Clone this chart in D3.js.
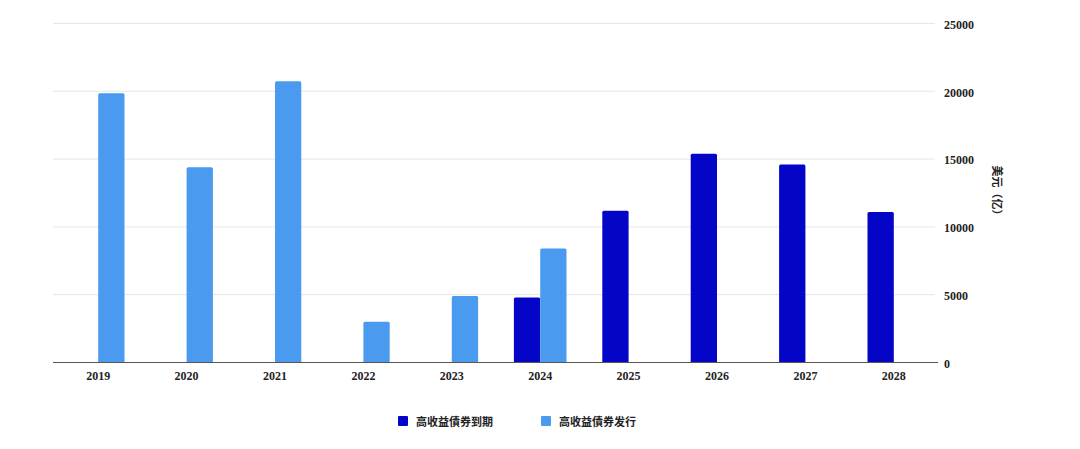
<!DOCTYPE html>
<html>
<head>
<meta charset="utf-8">
<script src="https://cdn.jsdelivr.net/npm/d3@7"></script>
<style>
  html, body { margin: 0; padding: 0; background: #fff; }
  text { font-family: "Liberation Serif", "DejaVu Serif", "Noto Sans CJK SC", serif; font-weight: bold; fill: #222; }
</style>
</head>
<body>
<svg id="main-svg" width="1080" height="449"></svg>
<script>
// chart data
const years = ['2019', '2020', '2021', '2022', '2023', '2024', '2025', '2026', '2027', '2028'];
const seriesNames = ['高收益債券到期', '高收益債券发行'];
const maturity = [null, null, null, null, null, 4800, 11200, 15400, 14600, 11100];
const issuance = [19850, 14400, 20750, 3000, 4900, 8400, null, null, null, null];
const colors = ['#0505c8', '#4a9af0'];
const yTicks = [0, 5000, 10000, 15000, 20000, 25000];
const yTitle = '美元（亿）';

const svg = d3.select('#main-svg');

const plotLeft = 54, plotRight = 938, plotTop = 23.5, plotBottom = 362.5;

const x0 = d3.scaleBand()
    .domain(years)
    .range([plotLeft, plotRight])
    .paddingInner(0.405)
    .paddingOuter(0.2025);

const x1 = d3.scaleBand()
    .domain(seriesNames)
    .range([0, x0.bandwidth()]);

const y = d3.scaleLinear()
    .domain([0, 25000])
    .range([plotBottom, plotTop]);

// gridlines
svg.append('g')
    .selectAll('line')
    .data(yTicks.slice(1))
    .enter()
    .append('line')
    .attr('x1', plotLeft - 1)
    .attr('x2', plotRight - 3)
    .attr('y1', d => y(d))
    .attr('y2', d => y(d))
    .attr('stroke', '#e6e6e6')
    .attr('stroke-width', 1);

// bars
const rows = years.map((yr, i) => ({ year: yr, values: [maturity[i], issuance[i]] }));

svg.append('g')
    .selectAll('g')
    .data(rows)
    .enter()
    .append('g')
    .attr('transform', d => `translate(${x0(d.year)},0)`)
    .selectAll('path')
    .data(d => d.values.map((v, k) => ({ v, k })).filter(e => e.v != null))
    .enter()
    .append('path')
    .attr('fill', d => colors[d.k])
    .attr('d', d => {
        const bx = x1(seriesNames[d.k]);
        const w = x1.bandwidth();
        const ty = y(d.v);
        const r = 1.5;
        return `M${bx},${plotBottom}V${ty + r}Q${bx},${ty} ${bx + r},${ty}H${bx + w - r}Q${bx + w},${ty} ${bx + w},${ty + r}V${plotBottom}Z`;
    });

// x axis
const xAxis = svg.append('g')
    .attr('transform', `translate(0,${plotBottom})`)
    .call(d3.axisBottom(x0).tickSize(0).tickPadding(9).tickSizeOuter(0));
xAxis.select('.domain').attr('stroke', '#555').attr('stroke-width', 1.2)
    .attr('d', `M${plotLeft - 1},0H${plotRight}`);
xAxis.selectAll('text').style('font-size', '12px').attr('fill', '#222');

// y axis
const yAxis = svg.append('g')
    .attr('transform', `translate(${plotRight},0)`)
    .call(d3.axisRight(y).tickValues(yTicks).tickSize(0).tickPadding(6).tickFormat(d3.format('d')));
yAxis.select('.domain').remove();
yAxis.selectAll('text').style('font-size', '12px').attr('fill', '#222').attr('dy', '0.4em');

// y title
svg.append('text')
    .attr('transform', `translate(993,193) rotate(90)`)
    .attr('text-anchor', 'middle')
    .style('font-size', '11px')
    .text(yTitle);

// legend
const legendX = [398, 541];
const legend = svg.append('g')
    .selectAll('g')
    .data(seriesNames)
    .enter()
    .append('g')
    .attr('transform', (d, i) => `translate(${legendX[i]},416)`);
legend.append('rect')
    .attr('width', 10)
    .attr('height', 10)
    .attr('rx', 1)
    .attr('fill', (d, i) => colors[i]);
legend.append('text')
    .attr('x', 18)
    .attr('y', 9.5)
    .style('font-size', '11px')
    .text(d => d);
</script>
</body>
</html>
